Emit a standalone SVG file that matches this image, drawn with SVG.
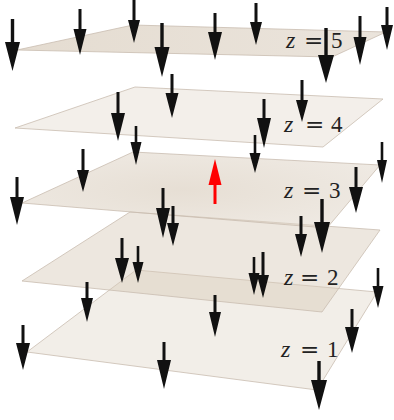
<svg xmlns="http://www.w3.org/2000/svg" width="394" height="420" viewBox="0 0 394 420">
<defs>
<style>
.pl{fill:#d6c9b8;stroke:#c9bdb0;stroke-width:0.8;stroke-linejoin:round}
.ar{fill:#111}
.lb{font-family:"Liberation Serif","DejaVu Serif",serif;font-size:23px;fill:#222}
.eq{font-family:"DejaVu Serif",serif;font-size:23px}
.it{font-style:italic;font-size:24px}
</style>
<radialGradient id="g3" cx="0.45" cy="0.5" r="0.6">
<stop offset="0" stop-color="#d0c1ad"/>
<stop offset="1" stop-color="#e0d6c9"/>
</radialGradient>
<linearGradient id="g5" x1="0" y1="0" x2="1" y2="0">
<stop offset="0" stop-color="#d3c5b2"/>
<stop offset="1" stop-color="#ddd2c4"/>
</linearGradient>
</defs>
<rect width="394" height="420" fill="#fff"/>
<g id="planes">
<polygon id="plane1" class="pl" fill-opacity="0.32" points="27,352 136,270 377,292 317,390"/>
<polygon id="plane2" class="pl" fill-opacity="0.45" points="22,281 130,212 380,230 322,312"/>
<polygon id="plane3" class="pl" style="fill:url(#g3)" fill-opacity="0.52" points="22,203 133,152 380,165 327,228"/>
<polygon id="plane4" class="pl" fill-opacity="0.3" points="15,128 135,87 383,99 323,147"/>
<polygon id="plane5" class="pl" style="fill:url(#g5)" fill-opacity="0.6" points="17,50 133,25 386,32 332,57"/>
</g>
<g id="labels">
<text class="lb" y="48"><tspan class="it" x="286">z</tspan><tspan class="eq" x="304">=</tspan><tspan x="331">5</tspan></text>
<text class="lb" y="132"><tspan class="it" x="284">z</tspan><tspan class="eq" x="305">=</tspan><tspan x="331">4</tspan></text>
<text class="lb" y="198"><tspan class="it" x="284">z</tspan><tspan class="eq" x="302">=</tspan><tspan x="329">3</tspan></text>
<text class="lb" y="285"><tspan class="it" x="284">z</tspan><tspan class="eq" x="300">=</tspan><tspan x="327">2</tspan></text>
<text class="lb" y="357"><tspan class="it" x="281">z</tspan><tspan class="eq" x="300">=</tspan><tspan x="327">1</tspan></text>
</g>
<g id="arrows" class="ar">
<path d="M10.8,19H14.2V42H20L12.5,71L5,42H10.8Z"/>
<path d="M78.5,9H81.5V29H86.5L80,55L73.5,29H78.5Z"/>
<path d="M132.5,0H135.5V20H140L134,43L128,20H132.5Z"/>
<path d="M160.3,23H163.7V47H169.5L162,77L154.5,47H160.3Z"/>
<path d="M170.5,74H173.5V93H178.5L172,118L165.5,93H170.5Z"/>
<path d="M116.5,92H119.5V113H125L118,141L111,113H116.5Z"/>
<path d="M134.7,126H137.3V142H141.5L136,165L130.5,142H134.7Z"/>
<path d="M213.5,13H216.5V32H222L215,60L208,32H213.5Z"/>
<path d="M254.5,3H257.5V22H262L256,45L250,22H254.5Z"/>
<path d="M324.3,28H327.7V55H334L326,83L318,55H324.3Z"/>
<path d="M358.5,16H361.5V37H366.5L360,65L353.5,37H358.5Z"/>
<path d="M385.5,7H388.5V25H393L387,50L381,25H385.5Z"/>
<path d="M300.5,80H303.5V100H308L302,122L296,100H300.5Z"/>
<path d="M262.5,99H265.5V118H271L264,148L257,118H262.5Z"/>
<path d="M253.7,135H256.3V153H260.5L255,173L249.5,153H253.7Z"/>
<path d="M15.5,177H18.5V197H24L17,225L10,197H15.5Z"/>
<path d="M81.5,149H84.5V170H89L83,192L77,170H81.5Z"/>
<path d="M161.5,188H164.5V208H170L163,238L156,208H161.5Z"/>
<path d="M171.5,206H174.5V223H179L173,246L167,223H171.5Z"/>
<path d="M120.5,238H123.5V258H129L122,283L115,258H120.5Z"/>
<path d="M136.7,246H139.3V262H143.5L138,283L132.5,262H136.7Z"/>
<path d="M380.7,142H383.3V160H387L382,183L377,160H380.7Z"/>
<path d="M354.5,167H357.5V187H363L356,213L349,187H354.5Z"/>
<path d="M320.3,199H323.7V222H330L322,253L314,222H320.3Z"/>
<path d="M299.5,216H302.5V234H307L301,257L295,234H299.5Z"/>
<path d="M252.7,257H255.3V273H259.5L254,295L248.5,273H252.7Z"/>
<path d="M261.5,252H264.5V275H269L263,298L257,275H261.5Z"/>
<path d="M376.7,268H379.3V286H383.5L378,308L372.5,286H376.7Z"/>
<path d="M85.5,282H88.5V298H93L87,322L81,298H85.5Z"/>
<path d="M21.5,325H24.5V343H30L23,370L16,343H21.5Z"/>
<path d="M162.5,342H165.5V360H171L164,389L157,360H162.5Z"/>
<path d="M213.5,295H216.5V312H221L215,337L209,312H213.5Z"/>
<path d="M350.5,309H353.5V327H359L352,353L345,327H350.5Z"/>
<path d="M317.3,361H320.7V380H327L319,410L311,380H317.3Z"/>
</g>
<g id="red-arrow">
<path fill="#f00" d="M215,159L221.5,185H216.5V204H213.5V185H208.5Z"/>
</g>
</svg>
